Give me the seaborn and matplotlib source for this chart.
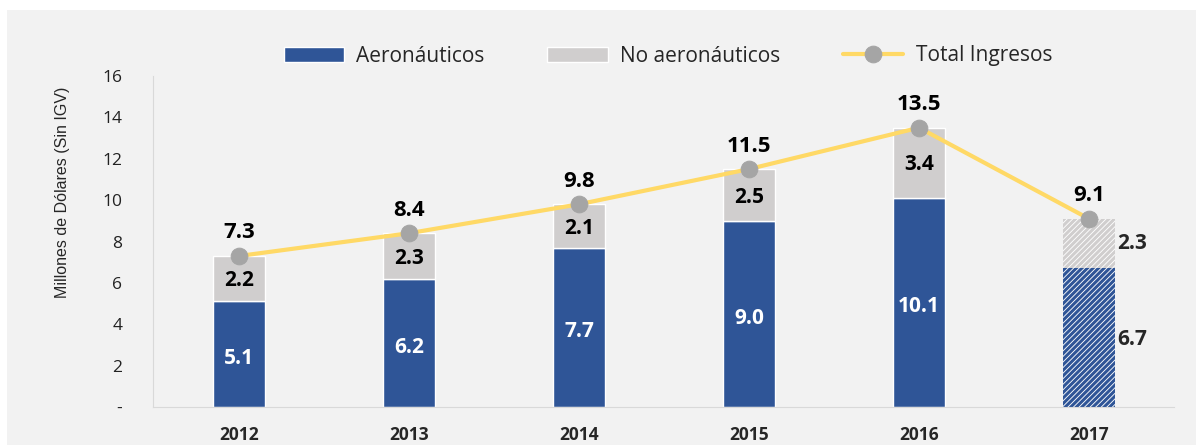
# Ingresos del aeropuerto: aeronáuticos vs no aeronáuticos

import matplotlib
matplotlib.use("Agg")
import matplotlib.pyplot as plt
from matplotlib.patches import Rectangle
import pandas as pd
import seaborn as sns

# Datos (millones de dólares, sin IGV)
anios = ["2012", "2013", "2014", "2015", "2016", "2017"]
aeronauticos = [5.1, 6.2, 7.7, 9.0, 10.1, 6.7]
no_aeronauticos = [2.2, 2.3, 2.1, 2.5, 3.4, 2.3]
total_ingresos = [7.3, 8.4, 9.8, 11.5, 13.5, 9.1]
y_ticks = [0, 2, 4, 6, 8, 10, 12, 14, 16]
y_tick_labels = ["-", "2", "4", "6", "8", "10", "12", "14", "16"]

AZUL = "#2F5597"
GRIS = "#D0CECE"
AMARILLO = "#FFD966"
PUNTO = "#A5A5A5"
FONDO = "#F2F2F2"

sns.set_style("white")
plt.rcParams["font.family"] = ["Open Sans", "DejaVu Sans"]
plt.rcParams["hatch.linewidth"] = 2.2

df = pd.DataFrame({
    "anio": anios,
    "aero": aeronauticos,
    "no_aero": no_aeronauticos,
    "total": total_ingresos,
})
df["pos"] = range(len(df))
df["resto"] = df["total"] - df["aero"]

fig = plt.figure(figsize=(11.96, 4.45), dpi=100)
fig.patch.set_facecolor("white")
fig.patches.append(Rectangle((7 / 1196, 0), 1, 1 - 10 / 445,
                             transform=fig.transFigure, facecolor=FONDO,
                             edgecolor="none", zorder=-10))
ax = fig.add_axes([153 / 1196, 38 / 445, 1024 / 1196, 331 / 445])
ax.set_facecolor(FONDO)

ancho = 0.31
sns.barplot(data=df, x="anio", y="aero", color=AZUL, width=ancho,
            saturation=1, ax=ax, label="Aeronáuticos", zorder=2)
sns.barplot(data=df, x="anio", y="resto", bottom=df["aero"], color=GRIS,
            width=ancho, saturation=1, ax=ax, label="No aeronáuticos", zorder=2)

# 2017 proyectado: barras rayadas
barras = ax.patches
ultimo = len(anios) - 1
proy_aero = barras[ultimo]
proy_resto = barras[len(anios) + ultimo]
proy_aero.set_facecolor("white")
proy_aero.set_edgecolor(AZUL)
proy_aero.set_hatch("//////")
proy_aero.set_linewidth(0)
proy_resto.set_facecolor("white")
proy_resto.set_edgecolor(GRIS)
proy_resto.set_hatch("//////")
proy_resto.set_linewidth(0)

sns.lineplot(data=df, x="pos", y="total", color=AMARILLO, linewidth=3,
             marker="o", markersize=12, markerfacecolor=PUNTO,
             markeredgecolor=PUNTO, ax=ax, label="Total Ingresos", zorder=3)

# Etiquetas de datos
for i, fila in df.iterrows():
    ax.annotate(f"{fila['total']:.1f}", (fila["pos"], fila["total"]),
                xytext=(0, 9), textcoords="offset points", ha="center",
                va="bottom", fontsize=16, fontweight="bold", color="black")
    if i == ultimo:
        x_lab = fila["pos"] + ancho / 2 + 0.01
        ax.text(x_lab, fila["aero"] / 2 - 0.1, f"{fila['aero']:.1f}",
                ha="left", va="center", fontsize=15, fontweight="bold")
        ax.text(x_lab, fila["aero"] + fila["resto"] / 2,
                f"{fila['no_aero']:.1f}", ha="left", va="center",
                fontsize=15, fontweight="bold")
    else:
        ax.text(fila["pos"], fila["aero"] / 2 - 0.2, f"{fila['aero']:.1f}",
                ha="center", va="center", fontsize=15, fontweight="bold",
                color="white")
        ax.text(fila["pos"], fila["aero"] + fila["resto"] / 2 - 0.1,
                f"{fila['no_aero']:.1f}", ha="center", va="center",
                fontsize=15, fontweight="bold", color="black")

ax.set_xlim(-0.506, 5.518)
ax.set_ylim(0, 16)
ax.set_yticks(y_ticks)
ax.set_yticklabels(y_tick_labels, fontsize=12.5, color="#222222")
ax.tick_params(axis="y", length=8, width=1, color="#D9D9D9", pad=14)
ax.tick_params(axis="x", length=0, pad=14)
for lab in ax.get_xticklabels():
    lab.set_fontweight("bold")
    lab.set_fontsize(12.5)
ax.set_xlabel("")
ax.set_ylabel("Millones de Dólares (Sin IGV)", fontsize=11.5,
              family=["Liberation Sans Narrow", "Liberation Sans"])
ax.yaxis.set_label_coords(-0.081, 0.65)

for lado in ["top", "right"]:
    ax.spines[lado].set_visible(False)
ax.spines["left"].set_color("#D9D9D9")
ax.spines["bottom"].set_color("#D9D9D9")
ax.spines["bottom"].set_bounds(-0.506, 5.5)

ax.get_legend().remove()
handles, labels = ax.get_legend_handles_labels()
orden = [labels.index(n) for n in ["Aeronáuticos", "No aeronáuticos", "Total Ingresos"]]
fig.legend([handles[k] for k in orden], [labels[k] for k in orden],
           loc="center", bbox_to_anchor=(668 / 1196, 1 - 56 / 445),
           ncol=3, frameon=False, fontsize=15, handlelength=2.9,
           columnspacing=3.0, handletextpad=0.6)

fig.savefig("out.png", dpi=100, facecolor=fig.get_facecolor())
